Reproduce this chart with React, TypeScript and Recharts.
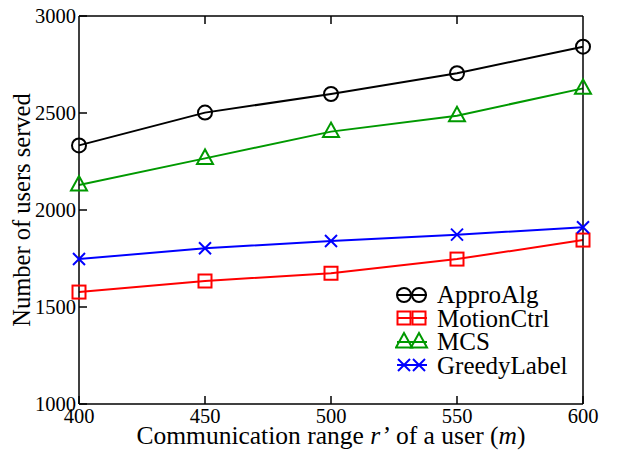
import { LineChart, Line, XAxis, YAxis } from 'recharts';

const ranges = [400, 450, 500, 550, 600];
const approAlg = [2333, 2502, 2598, 2705, 2842];
const motionCtrl = [1577, 1634, 1674, 1747, 1845];
const mcs = [2129, 2266, 2404, 2486, 2627];
const greedyLabel = [1747, 1803, 1840, 1873, 1911];
const yTicks = [1000, 1500, 2000, 2500, 3000];

const data = ranges.map((r, i) => ({
  range: r,
  ApproAlg: approAlg[i],
  MotionCtrl: motionCtrl[i],
  MCS: mcs[i],
  GreedyLabel: greedyLabel[i],
}));

const FONT = '"Liberation Serif", "DejaVu Serif", serif';
const GREEN = '#009900';
const textStyle = { fontFamily: FONT, fontSize: 20.5, fill: '#000' };

type Shape = 'circle' | 'square' | 'triangle' | 'cross';

function Marker({ cx, cy, shape, color }: { cx: number; cy: number; shape: Shape; color: string }) {
  if (shape === 'circle') return <circle cx={cx} cy={cy} r={7} fill="none" stroke={color} strokeWidth={2} />;
  if (shape === 'square')
    return <rect x={cx - 6.5} y={cy - 6.5} width={13} height={13} fill="none" stroke={color} strokeWidth={2} />;
  if (shape === 'triangle')
    return (
      <polygon
        points={`${cx},${cy - 9} ${cx - 8},${cy + 5.5} ${cx + 8},${cy + 5.5}`}
        fill="none"
        stroke={color}
        strokeWidth={2}
      />
    );
  return (
    <g stroke={color} strokeWidth={2}>
      <line x1={cx - 6} y1={cy - 6} x2={cx + 6} y2={cy + 6} />
      <line x1={cx - 6} y1={cy + 6} x2={cx + 6} y2={cy - 6} />
    </g>
  );
}

const series: { key: string; color: string; shape: Shape }[] = [
  { key: 'ApproAlg', color: '#000000', shape: 'circle' },
  { key: 'MotionCtrl', color: '#ff0000', shape: 'square' },
  { key: 'MCS', color: GREEN, shape: 'triangle' },
  { key: 'GreedyLabel', color: '#0000ff', shape: 'cross' },
];

const LegendBox = () => (
  <div
    style={{
      position: 'absolute',
      left: 395,
      top: 283,
      fontFamily: FONT,
      fontSize: 25,
      lineHeight: '23.5px',
      color: '#000',
    }}
  >
    {series.map(s => (
      <div key={s.key} style={{ display: 'flex', alignItems: 'center', height: 23.5, whiteSpace: 'nowrap' }}>
        <svg width={42} height={22} style={{ display: 'block' }}>
          <line x1={2} y1={11} x2={32} y2={11} stroke={s.color} strokeWidth={2} />
          <Marker cx={9} cy={11} shape={s.shape} color={s.color} />
          <Marker cx={24} cy={11} shape={s.shape} color={s.color} />
        </svg>
        <span>{s.key}</span>
      </div>
    ))}
  </div>
);

const LeftTick = (props: any) => {
  const { x, y, payload } = props;
  return (
    <g>
      <line x1={x} x2={x + 8} y1={y} y2={y} stroke="#000" strokeWidth={1.5} />
      <text x={x - 3} y={y + 7} textAnchor="end" style={textStyle}>
        {payload.value}
      </text>
    </g>
  );
};

const RightTick = (props: any) => {
  const { x, y, payload } = props;
  return (
    <g>
      <line x1={x - 8} x2={x} y1={y} y2={y} stroke="#000" strokeWidth={1.5} />
      <text x={x + 5} y={y + 7} textAnchor="start" style={textStyle}>
        {payload.value}
      </text>
    </g>
  );
};

const BottomTick = (props: any) => {
  const { x, y, payload } = props;
  return (
    <g>
      <line x1={x} x2={x} y1={y} y2={y - 8} stroke="#000" strokeWidth={1.5} />
      <text x={x} y={y + 19} textAnchor="middle" style={textStyle}>
        {payload.value}
      </text>
    </g>
  );
};

const TopTick = (props: any) => {
  const { x, y } = props;
  return <line x1={x} x2={x} y1={y} y2={y + 8} stroke="#000" strokeWidth={1.5} />;
};

export default function App() {
  return (
    <div style={{ position: 'absolute', left: 0, top: 0, width: 633, height: 451, background: '#fff' }}>
      <LineChart width={633} height={451} data={data} margin={{ top: 0, right: 0, left: 0, bottom: 0 }}>
        <XAxis
          xAxisId="bottom"
          dataKey="range"
          type="number"
          domain={[400, 600]}
          ticks={ranges}
          orientation="bottom"
          height={47}
          tickSize={0}
          tickMargin={0}
          tickLine={false}
          tick={BottomTick}
          axisLine={{ stroke: '#000', strokeWidth: 1.5 }}
          label={({ viewBox }: any) => (
            <text
              x={viewBox.x + viewBox.width / 2}
              y={444}
              textAnchor="middle"
              style={{ fontFamily: FONT, fontSize: 25.5, fill: '#000' }}
            >
              Communication range <tspan fontStyle="italic">r’</tspan> of a user (<tspan fontStyle="italic">m</tspan>)
            </text>
          )}
        />
        <XAxis
          xAxisId="top"
          dataKey="range"
          type="number"
          domain={[400, 600]}
          ticks={ranges.slice(1, -1)}
          orientation="top"
          height={16}
          tickSize={0}
          tickMargin={0}
          tickLine={false}
          tick={TopTick}
          axisLine={{ stroke: '#000', strokeWidth: 1.5 }}
        />
        <YAxis
          yAxisId="left"
          orientation="left"
          domain={[1000, 3000]}
          ticks={yTicks}
          width={79}
          tickSize={0}
          tickMargin={0}
          tickLine={false}
          tick={LeftTick}
          interval={0}
          axisLine={{ stroke: '#000', strokeWidth: 1.5 }}
          label={({ viewBox }: any) => (
            <text
              x={21}
              y={viewBox.y + viewBox.height / 2}
              transform={`rotate(-90, 21, ${viewBox.y + viewBox.height / 2})`}
              textAnchor="middle"
              dominantBaseline="central"
              style={{ fontFamily: FONT, fontSize: 24.5, fill: '#000' }}
            >
              Number of users served
            </text>
          )}
        />
        <YAxis
          yAxisId="right"
          orientation="right"
          domain={[1000, 3000]}
          ticks={yTicks}
          width={50}
          tickSize={0}
          tickMargin={0}
          tickLine={false}
          tick={RightTick}
          interval={0}
          axisLine={{ stroke: '#000', strokeWidth: 1.5 }}
        />
        {series.map(s => (
          <Line
            key={s.key}
            xAxisId="bottom"
            yAxisId="left"
            type="linear"
            dataKey={s.key}
            stroke={s.color}
            strokeWidth={2}
            isAnimationActive={false}
            dot={(p: any) => <Marker key={`${s.key}-${p.index}`} cx={p.cx} cy={p.cy} shape={s.shape} color={s.color} />}
            activeDot={false}
          />
        ))}
      </LineChart>
      <LegendBox />
    </div>
  );
}
